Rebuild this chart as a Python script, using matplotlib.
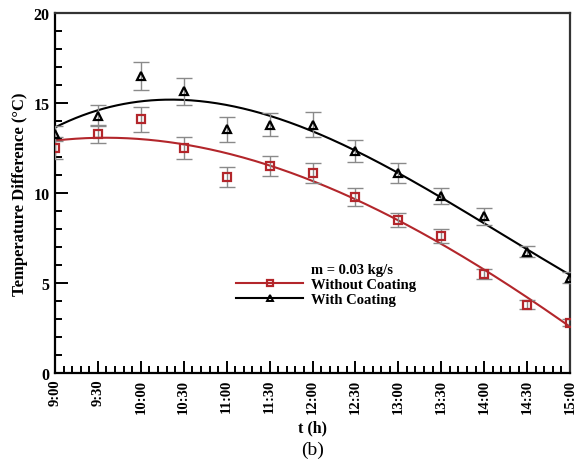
import numpy as np
import matplotlib
matplotlib.use("Agg")
import matplotlib.pyplot as plt
from matplotlib.lines import Line2D
from matplotlib.ticker import MultipleLocator, AutoMinorLocator

plt.rcParams['font.family'] = ['Liberation Serif', 'DejaVu Serif']
plt.rcParams['font.weight'] = 'bold'

# measurement times (hours) and their labels
hours = [9.0, 9.5, 10.0, 10.5, 11.0, 11.5, 12.0, 12.5, 13.0, 13.5, 14.0, 14.5, 15.0]
tick_labels = ["9:00", "9:30", "10:00", "10:30", "11:00", "11:30", "12:00",
               "12:30", "13:00", "13:30", "14:00", "14:30", "15:00"]

# temperature difference (deg C)
without_coating = [12.5, 13.3, 14.1, 12.5, 10.9, 11.5, 11.1, 9.8, 8.5, 7.6, 5.5, 3.8, 2.8]
without_err = [0.6, 0.5, 0.7, 0.6, 0.55, 0.55, 0.55, 0.5, 0.4, 0.4, 0.3, 0.25, 0.2]
with_coating = [13.3, 14.3, 16.5, 15.65, 13.55, 13.8, 13.8, 12.35, 11.1, 9.85, 8.7, 6.75, 5.3]
with_err = [0.4, 0.6, 0.8, 0.75, 0.7, 0.65, 0.7, 0.6, 0.55, 0.45, 0.45, 0.3, 0.3]

red = '#b3262b'
fig = plt.figure(figsize=(5.76, 4.64), dpi=100)
ax = fig.add_axes([55/576, 1 - 374/464, 515/576, 360/464])

x = np.array(hours)
xs = np.linspace(x[0], x[-1], 300)
for yv, err, col, mk in [(without_coating, without_err, red, 's'),
                         (with_coating, with_err, 'black', '^')]:
    # cubic trend line through the measurements
    coef = np.polyfit(x, yv, 3)
    ax.plot(xs, np.polyval(coef, xs), color=col, lw=1.5, zorder=2)
    ax.errorbar(x, yv, yerr=err, fmt='none', ecolor='#8a8a8a', elinewidth=1,
                capsize=6, capthick=1, zorder=3)
    ax.plot(x, yv, linestyle='none', marker=mk, markersize=5.8, markerfacecolor='none',
            markeredgecolor=col, markeredgewidth=1.6, zorder=4)

ax.set_xlim(9, 15)
ax.set_ylim(0, 20)
ax.set_xticks(hours)
ax.set_xticklabels(tick_labels, rotation=90, fontsize=10.5, fontweight='bold')
ax.xaxis.set_minor_locator(AutoMinorLocator(5))
ax.yaxis.set_major_locator(MultipleLocator(5))
ax.yaxis.set_minor_locator(MultipleLocator(1))
ax.tick_params(axis='y', labelsize=11.5)
ax.tick_params(which='both', direction='in', top=False, right=False, width=1.4, pad=4)
ax.tick_params(which='major', length=9)
ax.tick_params(which='minor', length=5)
for lbl in ax.get_yticklabels():
    lbl.set_fontweight('bold')
for s in ax.spines.values():
    s.set_linewidth(1.6)
ax.spines['top'].set_color('#333333')
ax.spines['right'].set_color('#333333')

ax.set_xlabel('t (h)', fontsize=11.5, fontweight='bold', labelpad=5)
ax.set_ylabel('Temperature Difference (°C)', fontsize=12, fontweight='bold', labelpad=4)

handles = [Line2D([], [], linestyle='none'),
           Line2D([], [], color=red, lw=1.5, marker='s', markersize=5,
                  markerfacecolor='none', markeredgecolor=red, markeredgewidth=1.6),
           Line2D([], [], color='black', lw=1.5, marker='^', markersize=5,
                  markerfacecolor='none', markeredgecolor='black', markeredgewidth=1.4)]
labels = ['m = 0.03 kg/s', 'Without Coating', 'With Coating']
leg = ax.legend(handles, labels, loc='upper left', bbox_to_anchor=(0.352, 0.305),
                frameon=False, numpoints=1, handlelength=4.6, handletextpad=0.55,
                labelspacing=0.12, borderpad=0, borderaxespad=0,
                prop={'family': 'Liberation Serif', 'weight': 'bold', 'size': 10.5})

fig.text(0.5 * (55 + 570) / 576, 1 - 450/464, '(b)', ha='center', va='center',
         fontsize=14, fontweight='normal')

fig.savefig('out.png', dpi=100)
